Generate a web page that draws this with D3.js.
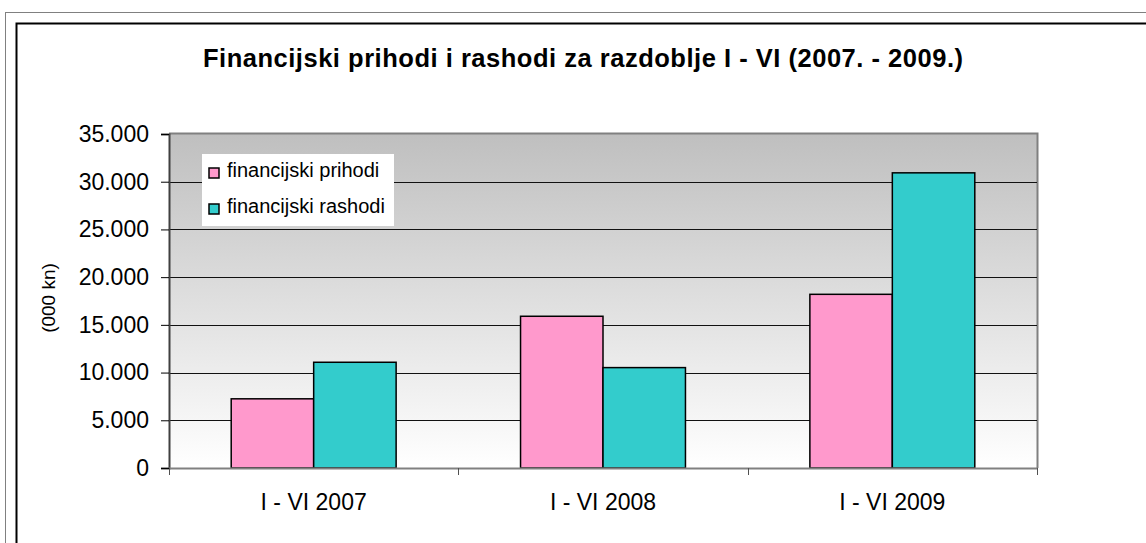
<!DOCTYPE html>
<html>
<head>
<meta charset="utf-8">
<script src="https://cdn.jsdelivr.net/npm/d3@7/dist/d3.min.js"></script>
<style>
    body { margin: 0; background: #fff; }
    svg { display: block; font-family: Arial, "Liberation Sans", sans-serif; }
</style>
</head>
<body>
<div id="chart"></div>
<script>
var width = 1146, height = 543;

// data
var categories = ["I - VI 2007", "I - VI 2008", "I - VI 2009"];
var seriesNames = ["financijski prihodi", "financijski rashodi"];
var prihodi = [7250, 15900, 18200];
var rashodi = [11080, 10520, 30930];
var yTicks = [0, 5000, 10000, 15000, 20000, 25000, 30000, 35000];
var colors = ["#ff99cc", "#33cccc"];

var plot = {left: 169, top: 134, right: 1037, bottom: 468};

var svg = d3.select("#chart")
    .append("svg")
    .attr("width", width)
    .attr("height", height);

// outer frames (cropped at right / bottom)
svg.append("rect")
    .attr("x", 5.5).attr("y", 12.5)
    .attr("width", 1200).attr("height", 600)
    .attr("fill", "none").attr("stroke", "#808080").attr("stroke-width", 1);
svg.append("rect")
    .attr("x", 16.5).attr("y", 23.5)
    .attr("width", 1200).attr("height", 600)
    .attr("fill", "none").attr("stroke", "#000").attr("stroke-width", 2);

// title
svg.append("text")
    .attr("x", 583).attr("y", 67)
    .attr("text-anchor", "middle")
    .attr("textLength", 760)
    .attr("lengthAdjust", "spacing")
    .style("font-size", "25.5px")
    .style("font-weight", "bold")
    .text("Financijski prihodi i rashodi za razdoblje I - VI (2007. - 2009.)");

var x0 = d3.scaleBand()
    .domain(categories)
    .range([plot.left, plot.right])
    .paddingInner(0.43)
    .paddingOuter(0.215);

var x1 = d3.scaleBand()
    .domain(seriesNames)
    .range([0, x0.bandwidth()]);

var y = d3.scaleLinear()
    .domain([0, 35000])
    .range([plot.bottom, plot.top]);

// background gradient
var grad = svg.append("defs").append("linearGradient")
    .attr("id", "bg")
    .attr("x1", 0).attr("y1", 0).attr("x2", 0).attr("y2", 1);
grad.append("stop").attr("offset", "0%").attr("stop-color", "#bfbfbf");
grad.append("stop").attr("offset", "100%").attr("stop-color", "#ffffff");

svg.append("rect")
    .attr("x", plot.left).attr("y", plot.top)
    .attr("width", plot.right - plot.left)
    .attr("height", plot.bottom - plot.top)
    .attr("fill", "url(#bg)");

// plot border top / right
svg.append("path")
    .attr("d", "M" + plot.left + "," + (plot.top - 0.5) + "H" + (plot.right + 0.5) + "V" + plot.bottom)
    .attr("fill", "none").attr("stroke", "#808080").attr("stroke-width", 2);

// gridlines
svg.append("g")
    .selectAll("line")
    .data(yTicks.filter(function (d) { return d > 0 && d < 35000; }))
    .enter()
    .append("line")
    .attr("x1", plot.left).attr("x2", plot.right)
    .attr("y1", function (d) { return Math.round(y(d)) + 0.5; })
    .attr("y2", function (d) { return Math.round(y(d)) + 0.5; })
    .attr("stroke", "#111").attr("stroke-width", 1);

// bars
var groups = svg.append("g")
    .selectAll("g")
    .data(categories)
    .enter()
    .append("g")
    .attr("transform", function (d) { return "translate(" + x0(d) + ",0)"; });

groups.selectAll("rect")
    .data(function (d, i) {
        return [
            {name: seriesNames[0], value: prihodi[i], color: colors[0]},
            {name: seriesNames[1], value: rashodi[i], color: colors[1]}
        ];
    })
    .enter()
    .append("rect")
    .attr("x", function (d) { return x1(d.name); })
    .attr("y", function (d) { return y(d.value); })
    .attr("width", x1.bandwidth())
    .attr("height", function (d) { return plot.bottom - y(d.value); })
    .attr("fill", function (d) { return d.color; })
    .attr("stroke", "#000")
    .attr("stroke-width", 1.5);

// y axis
var fmt = function (d) { return d3.format(",")(d).replace(/,/g, "."); };
var yAxis = svg.append("g")
    .attr("transform", "translate(" + plot.left + ",0)")
    .call(d3.axisLeft(y).tickValues(yTicks).tickSize(8).tickPadding(12).tickFormat(fmt));
yAxis.select(".domain").attr("stroke", "#404040").attr("stroke-width", 2);
yAxis.selectAll(".tick line").attr("stroke", "#000");
yAxis.selectAll("text")
    .style("font-size", "23px")
    .style("font-family", "Arial, 'Liberation Sans', sans-serif")
    .attr("fill", "#000");

// x axis
var boundaries = [0, 1, 2, 3];
var xAxisG = svg.append("g");
xAxisG.append("line")
    .attr("x1", plot.left).attr("x2", plot.right)
    .attr("y1", plot.bottom + 0.5).attr("y2", plot.bottom + 0.5)
    .attr("stroke", "#808080").attr("stroke-width", 2);
xAxisG.selectAll(".bt")
    .data(boundaries)
    .enter()
    .append("line")
    .attr("x1", function (d) { return Math.round(plot.left + d * x0.step()) + 0.5; })
    .attr("x2", function (d) { return Math.round(plot.left + d * x0.step()) + 0.5; })
    .attr("y1", plot.bottom)
    .attr("y2", plot.bottom + 7)
    .attr("stroke", "#505050").attr("stroke-width", 1);
xAxisG.selectAll("text")
    .data(categories)
    .enter()
    .append("text")
    .attr("x", function (d) { return x0(d) + x0.bandwidth() / 2; })
    .attr("y", 510)
    .attr("text-anchor", "middle")
    .style("font-size", "23px")
    .text(function (d) { return d; });

// y axis title
svg.append("text")
    .attr("transform", "translate(55,298) rotate(-90)")
    .attr("text-anchor", "middle")
    .style("font-size", "19px")
    .text("(000 kn)");

// legend
var legend = svg.append("g");
legend.append("rect")
    .attr("x", 202).attr("y", 154)
    .attr("width", 192).attr("height", 72)
    .attr("fill", "#fff");
var items = legend.selectAll(".item")
    .data(seriesNames)
    .enter()
    .append("g")
    .attr("transform", function (d, i) { return "translate(209," + (168 + i * 36) + ")"; });
items.append("rect")
    .attr("width", 10).attr("height", 10)
    .attr("fill", function (d, i) { return colors[i]; })
    .attr("stroke", "#000").attr("stroke-width", 1.5);
items.append("text")
    .attr("x", 18).attr("y", 9)
    .style("font-size", "20px")
    .text(function (d) { return d; });
</script>
</body>
</html>
